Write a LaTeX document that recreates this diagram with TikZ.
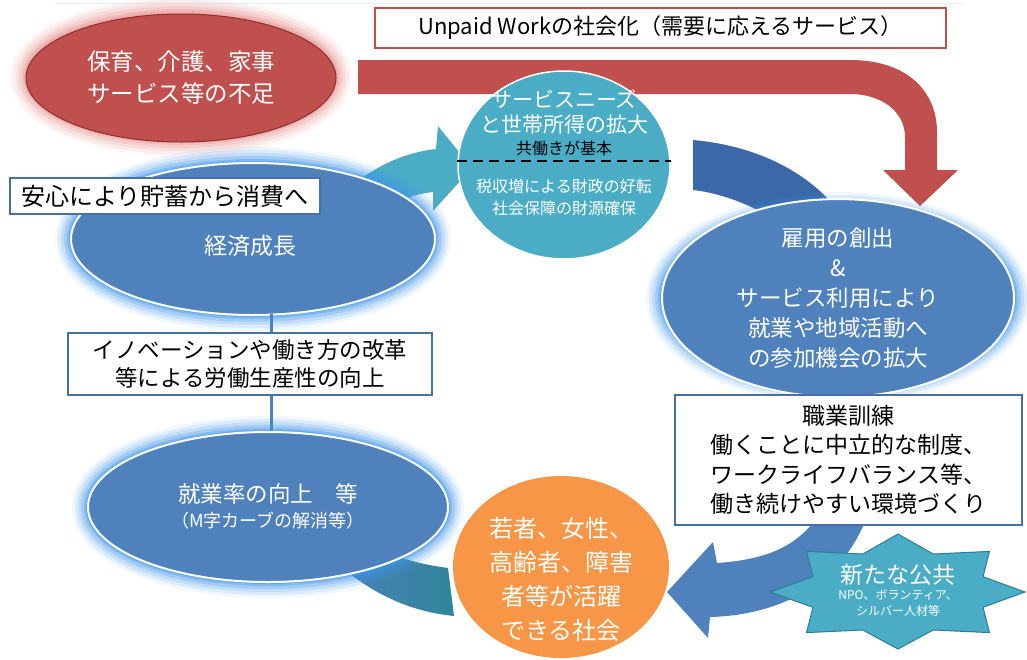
\documentclass[tikz,border=0pt]{standalone}
\usepackage{fontspec}
\setmainfont{Noto Sans CJK JP}
\usetikzlibrary{shapes.geometric,calc}
\definecolor{redfill}{HTML}{C0504D}
\definecolor{redborder}{HTML}{8E2F2D}
\definecolor{redglow}{HTML}{E79A98}
\definecolor{bluefill}{HTML}{4F81BD}
\definecolor{blueglow}{HTML}{3F95EA}
\definecolor{tealfill}{HTML}{4BACC6}
\definecolor{darkband}{HTML}{3A68A8}
\definecolor{lowband}{HTML}{31849B}
\definecolor{orangefill}{HTML}{F79646}
\definecolor{boxborder}{HTML}{4A6FA5}
\definecolor{starborder}{HTML}{2A7F96}
\newcommand\myglow[5]{%
  \foreach \w/\o in {32/0.08,26/0.12,20/0.16,14/0.24,8/0.34,4/0.45}{%
    \draw[#5, line width=\w pt, opacity=\o] (#1,#2) ellipse [x radius=#3pt, y radius=#4pt];}}
\newcommand\fs[2]{\fontsize{#1}{#2}\selectfont}
\begin{document}
\begin{tikzpicture}[x=1pt,y=-1pt,
  ovalblue/.style={ellipse, fill=bluefill, draw=white, line width=2pt, inner sep=0pt},
  boxw/.style={rectangle, fill=white, draw=boxborder, line width=1.5pt, align=center, inner sep=0pt},
  txtw/.style={text=white, align=center, inner sep=0pt},
  txtk/.style={text=black, align=center, inner sep=0pt}]
\useasboundingbox (0,0) rectangle (1027,659);
\draw[cyan!12, line width=1pt] (55,3) -- (965,3);

% red ellipse
\myglow{181}{77}{155}{64}{redglow}
\node[ellipse, fill=redfill, draw=redborder, line width=1pt, minimum width=310pt, minimum height=128pt, inner sep=0pt, text=white, align=center, font=\fs{23.5}{32}] (lack) at (181,78) {保育、介護、家事\\サービス等の不足};

% red arrow
\fill[redfill] (358,60) -- (850,60) .. controls (908,60) and (937,92) .. (937,132) -- (937,170) -- (958,170) -- (920,206) -- (883,170) -- (905,170) -- (905,137) .. controls (905,112) and (882,94) .. (850,94) -- (358,94) -- cycle;

% unpaid box
\node[boxw, draw=redfill, minimum width=571pt, minimum height=40pt, font=\fs{22}{24}] (unpaid) at (660.5,28) {Unpaid Workの社会化（需要に応えるサービス）};

% dark band from circle to right ellipse
\fill[darkband] (693,140) .. controls (760,146) and (815,175) .. (845,220) -- (775,220) .. controls (750,204) and (720,193) .. (693,190) -- cycle;

% teal arrow into circle
\fill[tealfill] (330,205) .. controls (365,170) and (400,153) .. (436,149) -- (438,126) -- (472,168) -- (433,211) -- (433,192) .. controls (400,196) and (380,210) .. (365,232) -- cycle;

% teal circle
\node[ellipse, fill=tealfill, draw=white, line width=1.5pt, minimum width=212pt, minimum height=188pt, inner sep=0pt] (svc) at (564,165) {};
\node[txtw, font=\fs{21}{25}] (svc1) at (564,112) {サービスニーズ\\と世帯所得の拡大};
\node[txtk, font=\fs{16}{20}] (svc2) at (564,148) {共働きが基本};
\draw[black, line width=1.8pt, dash pattern=on 10pt off 6pt] (457,161) -- (671,161);
\node[txtw, font=\fs{16}{22}] (svc3) at (564,197) {税収増による財政の好転\\社会保障の財源確保};

% econ ellipse
\myglow{253}{239}{182}{76}{blueglow}
\node[ovalblue, minimum width=364pt, minimum height=152pt] (econ) at (253,239) {};
\node[txtw, font=\fs{23}{26}] (econtxt) at (250,246) {経済成長};

% right ellipse
\myglow{838}{298}{176}{90}{blueglow}
\node[ovalblue, minimum width=352pt, minimum height=180pt, text=white, align=center, font=\fs{22.5}{29.8}] (jobs) at (838,298) {雇用の創出\\\&\\サービス利用により\\就業や地域活動へ\\の参加機会の拡大};

% anshin box
\node[boxw, minimum width=310pt, minimum height=36pt, font=\fs{24}{26}] (anshin) at (165,196) {安心により貯蓄から消費へ};

% connectors
\coordinate (c1) at (271,314);
\draw[bluefill, line width=3pt] (c1) -- (c1 |- 0,333);
% innovation box
\node[boxw, minimum width=364pt, minimum height=62pt, font=\fs{22.5}{28}] (innov) at (250,364) {イノベーションや働き方の改革\\等による労働生産性の向上};
\draw[bluefill, line width=3pt] (c1 |- innov.south) -- (c1 |- 0,433);

% lower band
\shade[left color=bluefill!80!lowband, right color=lowband] (345,570) .. controls (380,598) and (415,612) .. (454,616) -- (448,568) .. controls (425,565) and (405,560) .. (385,552) -- cycle;

% work ellipse
\myglow{268}{507}{180}{75}{blueglow}
\node[ovalblue, minimum width=360pt, minimum height=150pt] (work) at (268,507) {};
\node[txtw, font=\fs{22.5}{26}] (work1) at (268,494) {就業率の向上　等};
\node[txtw, font=\fs{18}{22}] (work2) at (268,521) {（M字カーブの解消等）};

% orange circle
\node[ellipse, fill=orangefill, minimum width=216pt, minimum height=182pt, inner sep=0pt] (soc) at (561,567) {};
\node[txtw, font=\fs{24}{34}] (soctxt) at (561,579) {若者、女性、\\高齢者、障害\\者等が活躍\\できる社会};

% blue arrow to orange circle
\fill[bluefill] (812,524) .. controls (790,550) and (760,560) .. (717,563) -- (713,542) -- (667,592) -- (708,638) -- (710,617) .. controls (785,615) and (840,580) .. (864,524) -- cycle;

% right box
\node[boxw, minimum width=347pt, minimum height=130pt, font=\fs{23}{29.5}] (train) at (848.5,460) {職業訓練\\働くことに中立的な制度、\\ワークライフバランス等、\\働き続けやすい環境づくり};

% star
\coordinate (starc) at (898,592);
\filldraw[fill=tealfill, draw=starborder, line width=1pt]
 (898,534) -- (933.2,554) -- (989.5,551.4) -- (983,576.7) -- (1025,592) -- (983,607.3) -- (989.5,632.6) -- (933.2,630) -- (898,649) -- (862.8,630) -- (806.5,632.6) -- (813,607.3) -- (770,592) -- (813,576.7) -- (806.5,551.4) -- (862.8,554) -- cycle;
\node[txtw, font=\fs{23}{26}] (star1) at ($(starc)+(0,-17)$) {新たな公共};
\node[txtw, font=\fs{12}{16}] (star2) at ($(starc)+(0,11)$) {NPO、ボランティア、\\シルバー人材等};
\end{tikzpicture}
\end{document}
